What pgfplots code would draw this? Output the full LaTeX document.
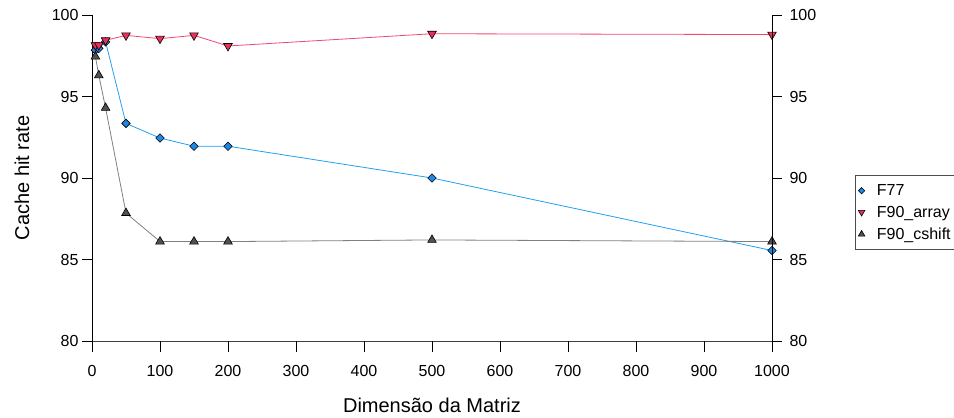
\documentclass[border=0pt]{standalone}
\usepackage{fontspec}
\setmainfont{Liberation Sans}
\usepackage{pgfplots}
\pgfplotsset{compat=1.18}
\definecolor{l77}{HTML}{22A0F0}
\definecolor{m77}{HTML}{1E88E5}
\definecolor{larr}{HTML}{F04870}
\definecolor{marr}{HTML}{E8305A}
\definecolor{lcs}{HTML}{808080}
\definecolor{mcs}{HTML}{505050}
\begin{document}
\begin{tikzpicture}
\useasboundingbox (0,0) rectangle (954pt,418pt);
\begin{axis}[
  at={(92pt,77pt)}, anchor=south west,
  width=680pt, height=326pt, scale only axis,
  xmin=0, xmax=1000, ymin=80, ymax=100,
  clip=false,
  axis x line*=bottom, axis y line*=left,
  axis line style={-, black, line width=0.8pt},
  x axis line style={black!75},
  xtick={0,100,...,1000}, ytick={80,85,...,100},
  major tick length=0pt,
  /pgf/number format/1000 sep={},
  /pgf/number format/assume math mode=true,
  ticklabel style={font=\fontsize{16}{19}\selectfont},
  xticklabel style={yshift=-21pt},
  yticklabel style={xshift=-10pt},
  xlabel={Dimensão da Matriz},
  ylabel={Cache hit rate},
  label style={font=\fontsize{20}{24}\selectfont},
  xlabel style={at={(axis description cs:0.5,-0.196)}, anchor=center},
  ylabel style={at={(axis description cs:-0.103,0.5)}, anchor=center},
  legend style={at={(rel axis cs:1.122,0.509)}, anchor=north west,
    draw=black!70, line width=0.8pt, font=\fontsize{16}{19}\selectfont,
    row sep=5pt, inner xsep=3pt, inner ysep=7pt,
    /tikz/every odd column/.append style={column sep=10pt}},
  legend cell align=left,
  legend image code/.code={\draw[#1, only marks, every mark/.append style={scale=0.75}] plot coordinates {(0cm,0cm)};},
]
\addplot[l77, line width=0.8pt, mark=square*, mark size=3pt,
  mark options={rotate=45, fill=m77, draw=black, line width=0.6pt}]
  coordinates {(5,97.85) (10,97.95) (20,98.35) (50,93.35) (100,92.45) (150,91.95) (200,91.95) (500,90.0) (1000,85.55)};
\addlegendentry{F77}
\addplot[larr, line width=0.8pt, mark=triangle*, mark size=5pt,
  mark options={rotate=180, fill=marr, draw=black, line width=0.6pt}]
  coordinates {(5,98.15) (10,98.15) (20,98.45) (50,98.75) (100,98.55) (150,98.75) (200,98.1) (500,98.85) (1000,98.8)};
\addlegendentry{F90\_array}
\addplot[lcs, line width=0.8pt, mark=triangle*, mark size=5pt,
  mark options={fill=mcs, draw=black, line width=0.6pt}]
  coordinates {(5,97.45) (10,96.3) (20,94.3) (50,87.85) (100,86.1) (150,86.1) (200,86.1) (500,86.2) (1000,86.1)};
\addlegendentry{F90\_cshift}
\pgfplotsinvokeforeach{0,100,200,300,400,500,600,700,800,900,1000}{
  \draw[black, line width=0.8pt] (axis cs:#1,80) -- ([yshift=-11pt]axis cs:#1,80);}
\pgfplotsinvokeforeach{80,85,90,95,100}{
  \draw[black, line width=0.8pt] (axis cs:0,#1) -- ([xshift=-10pt]axis cs:0,#1);
  \draw[black, line width=0.8pt] (axis cs:1000,#1) -- ([xshift=10pt]axis cs:1000,#1);}
\end{axis}
\begin{axis}[
  at={(92pt,77pt)}, anchor=south west,
  width=680pt, height=326pt, scale only axis,
  xmin=0, xmax=1000, ymin=80, ymax=100,
  axis x line=none, axis y line*=right,
  axis line style={-, black, line width=0.8pt},
  ytick={80,85,...,100},
  major tick length=0pt,
  /pgf/number format/assume math mode=true,
  ticklabel style={font=\fontsize{16}{19}\selectfont},
  yticklabel style={xshift=14pt},
]
\end{axis}
\end{tikzpicture}
\end{document}
